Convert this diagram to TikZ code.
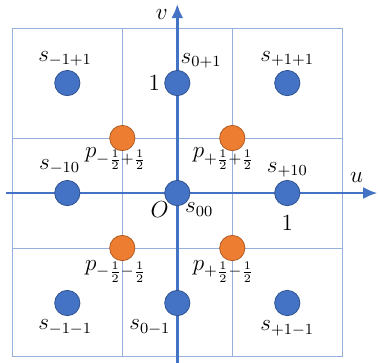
\documentclass[tikz,border=0pt]{standalone}
\usepackage{amsmath, amssymb}
\usepackage{tikz}
\usetikzlibrary{positioning,arrows.meta}

\definecolor{axisblue}{RGB}{68,114,196}
\definecolor{dotedge}{RGB}{47,82,143}
\definecolor{gridblue}{RGB}{150,176,222}
\definecolor{pfill}{RGB}{237,125,49}
\definecolor{pedge}{RGB}{174,90,33}

\begin{document}
\begin{tikzpicture}[x=2cm, y=2cm, >=Latex, every node/.style={font=\large, inner sep=1pt},
  sdot/.style={draw=dotedge, fill=axisblue, circle, inner sep=0pt, minimum size=0.46cm, line width=0.4pt},
  pdot/.style={draw=pedge, fill=pfill, circle, inner sep=0pt, minimum size=0.46cm, line width=0.4pt},
  gridline/.style={draw=gridblue, line width=0.5pt},
  axis/.style={draw=axisblue, line width=1.5pt, -{Latex[length=2.6mm, width=2.2mm]}}]
  \useasboundingbox (-1.612,-1.545) rectangle (1.834,1.755);

  % grid
  \draw[gridline] (-1.5,-1.49) rectangle (1.5,1.5);
  \draw[gridline] (-1.5,0.5) -- (1.5,0.5);
  \draw[gridline] (-1.5,-0.5) -- (1.5,-0.5);
  \draw[gridline] (-0.5,-1.49) -- (-0.5,1.5);
  \draw[gridline] (0.5,-1.49) -- (0.5,1.5);

  % axes
  \coordinate (uL) at (-1.557,0);
  \coordinate (uR) at (1.82,0);
  \coordinate (vB) at (0,-1.545);
  \coordinate (vT) at (0,1.72);
  \draw[axis] (uL) -- (uR);
  \draw[axis] (vB) -- (vT);
  \node (ulab) at (1.63,0.14) {$u$};
  \node (vlab) at (-0.14,1.62) {$v$};

  % sample points
  \node[sdot] (smp) at (-1,1) {};
  \node[sdot] (szp) at (0,1) {};
  \node[sdot] (spp) at (1,1) {};
  \node[sdot] (smz) at (-1,0) {};
  \node[sdot] (szz) at (0,0) {};
  \node[sdot] (spz) at (1,0) {};
  \node[sdot] (smm) at (-1,-1) {};
  \node[sdot] (szm) at (0,-1) {};
  \node[sdot] (spm) at (1,-1) {};

  % half points
  \node[pdot] (pmp) at (-0.5,0.5) {};
  \node[pdot] (ppp) at (0.5,0.5) {};
  \node[pdot] (pmm) at (-0.5,-0.5) {};
  \node[pdot] (ppm) at (0.5,-0.5) {};

  % labels
  \node (lsmp) at (-1.02,1.22) {$s_{-1+1}$};
  \node[anchor=west] (lszp) at (0.01,1.2) {$s_{0+1}$};
  \node (lspp) at (1.0,1.22) {$s_{+1+1}$};
  \node (lone) at (-0.21,1.0) {$1$};
  \node (lsmz) at (-1.07,0.24) {$s_{-10}$};
  \node (lspz) at (1.0,0.21) {$s_{+10}$};
  \node (lorg) at (-0.16,-0.15) {$O$};
  \node[anchor=west] (lszz) at (0.05,-0.15) {$s_{00}$};
  \node (ltwo) at (1.0,-0.27) {$1$};
  \node (lsmm) at (-1.02,-1.22) {$s_{-1-1}$};
  \node (lszm) at (-0.25,-1.22) {$s_{0-1}$};
  \node (lspm) at (1.0,-1.23) {$s_{+1-1}$};
  \node (lpmp) at (-0.56,0.31) {$p_{-\frac{1}{2}+\frac{1}{2}}$};
  \node (lppp) at (0.42,0.31) {$p_{+\frac{1}{2}+\frac{1}{2}}$};
  \node (lpmm) at (-0.56,-0.71) {$p_{-\frac{1}{2}-\frac{1}{2}}$};
  \node (lppm) at (0.42,-0.71) {$p_{+\frac{1}{2}-\frac{1}{2}}$};
\end{tikzpicture}
\end{document}
